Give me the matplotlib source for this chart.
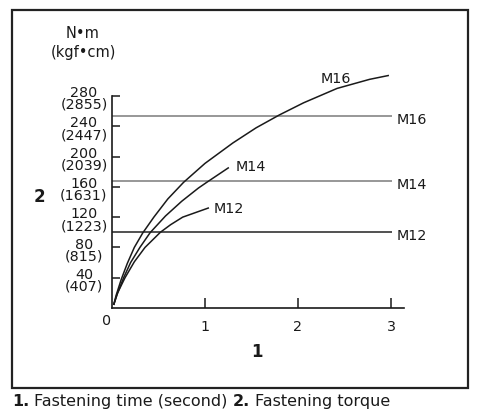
import matplotlib
matplotlib.use("Agg")
import matplotlib.pyplot as plt
from matplotlib.patches import Rectangle

# fastening time (s) vs torque (N·m)
m16_time = [0.02, 0.045, 0.10, 0.165, 0.24, 0.33, 0.45, 0.60, 0.77, 1.00, 1.30, 1.55, 1.80, 2.06, 2.42, 2.77, 2.97]
m16_torque = [5, 17, 38, 59, 80, 99, 120, 144, 166, 191, 218, 238, 255, 271, 290, 302, 307]

m14_time = [0.02, 0.055, 0.125, 0.20, 0.30, 0.41, 0.575, 0.75, 0.93, 1.025, 1.25]
m14_torque = [5, 18, 40, 60, 80, 99.5, 121.5, 141, 158.5, 166.5, 185]

m12_time = [0.02, 0.06, 0.14, 0.24, 0.355, 0.52, 0.63, 0.76, 1.035]
m12_torque = [5, 20, 40, 61, 80, 100, 110, 120, 132]

# torque limit per bolt size
limit_names = ["M12", "M14", "M16"]
limit_torque = [100, 168, 254]

x_ticks = [1, 2, 3]
y_ticks = [40, 80, 120, 160, 200, 240, 280]
y_kgf = [407, 815, 1223, 1631, 2039, 2447, 2855]

W, H = 485, 417
fig = plt.figure(figsize=(W / 100, H / 100), dpi=100)
ax = fig.add_axes([112 / W, 109 / H, 292 / W, 212 / H])
ax.set_xlim(0, 3.14)
ax.set_ylim(0, 280)

ink = "#1a1a1a"
fs = 10.3

# limit lines
limit_colors = {"M12": "#222222", "M14": "#7a7a7a", "M16": "#7a7a7a"}
for name, val in zip(limit_names, limit_torque):
    ax.plot([0, 3.01], [val, val], color=limit_colors[name], lw=1.1, solid_capstyle="butt")
    ax.annotate(name, xy=(3.01, val), xytext=(5, -4), textcoords="offset pixels",
                ha="left", va="center", fontsize=fs, color=ink)

# torque curves
curves = [("M16", m16_time, m16_torque), ("M14", m14_time, m14_torque), ("M12", m12_time, m12_torque)]
for name, t, v in curves:
    ax.plot(t, v, color=ink, lw=1.1, clip_on=False, solid_joinstyle="round")

ax.text(2.41, 302, "M16", ha="center", va="center", fontsize=fs, color=ink)
ax.text(1.495, 186, "M14", ha="center", va="center", fontsize=fs, color=ink)
ax.text(1.258, 131, "M12", ha="center", va="center", fontsize=fs, color=ink)

# axes styling
for side in ["top", "right"]:
    ax.spines[side].set_visible(False)
for side in ["left", "bottom"]:
    ax.spines[side].set_color(ink)
    ax.spines[side].set_linewidth(1.2)

ax.set_xticks(x_ticks)
ax.set_xticklabels([str(x) for x in x_ticks])
ax.tick_params(axis="x", direction="in", length=7, width=1.1, color=ink, pad=8.5,
               labelsize=fs, labelcolor=ink)

ax.set_yticks(y_ticks)
ax.set_yticklabels([])
ax.tick_params(axis="y", direction="in", length=5.5, width=1.1, color=ink)
# two-line torque labels: N·m over kgf·cm
for a, b in zip(y_ticks, y_kgf):
    ax.annotate(f"{a}\n({b})", xy=(0, a), xycoords=("axes fraction", "data"),
                xytext=(-28, -3), textcoords="offset pixels", ha="center", va="center",
                multialignment="center", linespacing=0.8, fontsize=fs, color=ink,
                annotation_clip=False)

ax.annotate("0", xy=(0, 0), xytext=(-5, -13), textcoords="offset pixels",
            ha="center", va="center", fontsize=fs, color=ink, annotation_clip=False)

ax.set_xlabel("1", fontsize=12, fontweight="bold", color=ink)
ax.xaxis.set_label_coords(0.497, -0.2075)
ax.xaxis.label.set_va("center")
ax.set_ylabel("2", rotation=0, fontsize=12, fontweight="bold", color=ink)
ax.yaxis.set_label_coords(-0.25, 0.524)
ax.yaxis.label.set_va("center")
ax.yaxis.label.set_ha("center")

# unit header
fig.text(83 / W, 1 - 33 / H, "N•m", ha="center", va="center", fontsize=10.5, color=ink)
fig.text(83 / W, 1 - 52 / H, "(kgf•cm)", ha="center", va="center", fontsize=10.5, color=ink)

# frame
fig.add_artist(Rectangle((12 / W, 1 - 388 / H), 456 / W, 378 / H, transform=fig.transFigure,
                         fill=False, edgecolor="#222222", lw=1.6))

# caption with bold numbers
cap_fs = 11.5
t1 = fig.text(12 / W, 1 - 406 / H, "1.", fontsize=cap_fs, fontweight="bold", va="baseline", color=ink)
t2 = ax.annotate("Fastening time (second)", xy=(1, 0), xycoords=t1, xytext=(5, 0),
                 textcoords="offset pixels", va="bottom", fontsize=cap_fs, color=ink)
t3 = ax.annotate("2.", xy=(1, 0), xycoords=t2, xytext=(5, 0), textcoords="offset pixels",
                 va="bottom", fontsize=cap_fs, fontweight="bold", color=ink)
ax.annotate("Fastening torque", xy=(1, 0), xycoords=t3, xytext=(5, 0),
            textcoords="offset pixels", va="bottom", fontsize=cap_fs, color=ink)

fig.savefig("out.png", dpi=100)
